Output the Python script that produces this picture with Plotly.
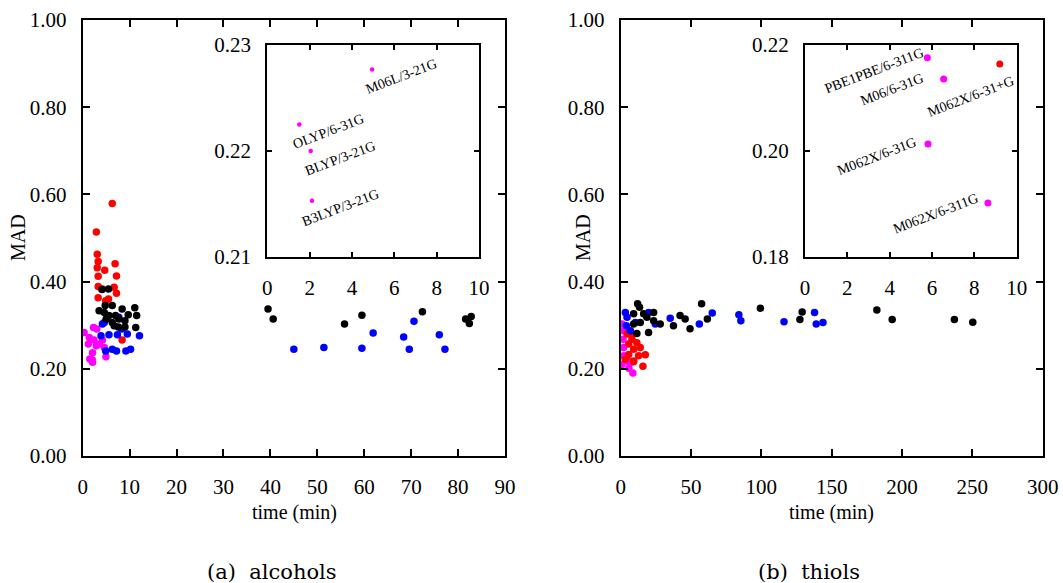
import plotly.graph_objects as go

# ---------------- data: (a) alcohols ----------------
alc_red_x = [6.3, 2.9, 3.1, 3.3, 3.1, 4.7, 6.9, 3.3, 7.2, 3.3, 6.7, 4.2, 7.2, 3.3, 4.9, 8.4, 5.5]
alc_red_y = [0.579, 0.514, 0.463, 0.446, 0.432, 0.426, 0.441, 0.412, 0.413, 0.389, 0.387, 0.383, 0.373, 0.363, 0.356, 0.266, 0.360]

alc_black_x = [4.1, 5.5, 4.8, 6.3, 8.4, 11.1, 3.5, 4.6, 5.6, 7.0, 9.7, 11.5, 5.0, 6.3, 7.7, 9.0, 6.7, 9.0, 11.3, 7.6,
               39.5, 40.6, 55.8, 59.5, 72.4, 81.6, 82.4, 82.8]
alc_black_y = [0.382, 0.383, 0.345, 0.345, 0.337, 0.340, 0.333, 0.329, 0.322, 0.322, 0.324, 0.322, 0.314, 0.306, 0.314, 0.310, 0.299, 0.296, 0.295, 0.296,
               0.337, 0.314, 0.303, 0.323, 0.331, 0.314, 0.304, 0.320]

alc_blue_x = [4.6, 4.2, 7.7, 3.9, 5.6, 7.4, 9.5, 12.1, 4.9, 6.3, 7.2, 9.2, 10.2, 8.3,
              45.0, 51.4, 59.5, 61.9, 68.4, 69.6, 70.6, 76.0, 77.2]
alc_blue_y = [0.306, 0.303, 0.318, 0.276, 0.278, 0.278, 0.280, 0.276, 0.241, 0.245, 0.241, 0.241, 0.245, 0.291,
              0.245, 0.249, 0.247, 0.282, 0.273, 0.245, 0.309, 0.278, 0.245]

alc_mag_x = [0.3, 2.3, 3.0, 1.4, 2.4, 4.2, 1.2, 2.9, 2.1, 3.5, 4.6, 4.95, 1.51, 2.05, 2.11]
alc_mag_y = [0.283, 0.295, 0.291, 0.272, 0.266, 0.266, 0.257, 0.253, 0.237, 0.257, 0.249, 0.2277, 0.2225, 0.2200, 0.2153]

# inset (a)
alc_ins_labels = ["M06L/3-21G", "OLYP/6-31G", "BLYP/3-21G", "B3LYP/3-21G"]
alc_ins_x = [4.95, 1.51, 2.05, 2.11]
alc_ins_y = [0.2277, 0.2225, 0.2200, 0.2153]

# ---------------- data: (b) thiols ----------------
thi_red_x = [4.5, 8.0, 5.7, 11.5, 13.9, 9.2, 17.5, 5.7, 9.2, 15.8, 3.3, 12.7, 8.0, 9.2]
thi_red_y = [0.280, 0.268, 0.257, 0.260, 0.249, 0.245, 0.232, 0.233, 0.218, 0.206, 0.222, 0.230, 0.280, 0.2164]

thi_mag_x = [0.9, 2.1, 1.6, 2.1, 2.1, 4.0, 0.9, 5.78, 6.55, 5.81, 8.64]
thi_mag_y = [0.303, 0.287, 0.268, 0.249, 0.230, 0.218, 0.210, 0.2176, 0.2136, 0.2013, 0.1902]

thi_blue_x = [3.3, 4.5, 4.0, 6.9, 19.8, 24.6, 35.2, 55.9, 65.1, 10.4, 84.0, 85.4, 116.1, 137.8, 139.0, 143.8]
thi_blue_y = [0.329, 0.318, 0.299, 0.287, 0.329, 0.303, 0.316, 0.303, 0.328, 0.306, 0.324, 0.310, 0.308, 0.329, 0.303, 0.306]

thi_black_x = [12.0, 13.4, 9.2, 16.3, 23.4, 18.6, 28.1, 9.2, 11.5, 19.8, 23.4, 37.5, 42.2, 45.8, 49.3, 57.5, 61.6, 13.9,
               99.3, 129.0, 127.4, 182.1, 193.0, 237.2, 250.3]
thi_black_y = [0.349, 0.341, 0.326, 0.326, 0.329, 0.318, 0.303, 0.303, 0.281, 0.283, 0.310, 0.299, 0.322, 0.314, 0.292, 0.349, 0.314, 0.306,
               0.339, 0.330, 0.313, 0.335, 0.313, 0.313, 0.307]

# inset (b)
thi_ins_labels = ["PBE1PBE/6-311G", "M06/6-31G", "M062X/6-31+G", "M062X/6-31G", "M062X/6-311G"]
thi_ins_x = [5.78, 6.55, 9.2, 5.81, 8.64]
thi_ins_y = [0.2176, 0.2136, 0.2164, 0.2013, 0.1902]
thi_ins_colors = ["#ff00ff", "#ff00ff", "#ff0000", "#ff00ff", "#ff00ff"]

# ---------------- styling ----------------
FONT = "Liberation Serif"
W, H = 1063, 583
RED, BLUE, BLACK, MAG = "#ff0000", "#0000ff", "#000000", "#ff00ff"
MS = 7.5

fig = go.Figure()

def add_pts(x, y, color, xa, ya, size=MS):
    fig.add_trace(go.Scatter(x=x, y=y, mode="markers", xaxis=xa, yaxis=ya,
                             marker=dict(color=color, size=size, line=dict(width=0)),
                             showlegend=False, hoverinfo="x+y"))

# main (a)
add_pts(alc_mag_x, alc_mag_y, MAG, "x", "y")
add_pts(alc_red_x, alc_red_y, RED, "x", "y")
add_pts(alc_blue_x, alc_blue_y, BLUE, "x", "y")
add_pts(alc_black_x, alc_black_y, BLACK, "x", "y")
# main (b)
add_pts(thi_mag_x, thi_mag_y, MAG, "x2", "y2")
add_pts(thi_red_x, thi_red_y, RED, "x2", "y2")
add_pts(thi_blue_x, thi_blue_y, BLUE, "x2", "y2")
add_pts(thi_black_x, thi_black_y, BLACK, "x2", "y2")
# insets
add_pts(alc_ins_x, alc_ins_y, MAG, "x3", "y3", size=4.5)
fig.add_trace(go.Scatter(x=thi_ins_x, y=thi_ins_y, mode="markers", xaxis="x4", yaxis="y4",
                         marker=dict(color=thi_ins_colors, size=7, line=dict(width=0)),
                         showlegend=False))

def px(v):  # pixel -> paper x
    return v / W

def py(v):  # pixel (from top) -> paper y
    return 1 - v / H

tickfont = dict(family=FONT, size=21, color="black")
common = dict(showline=True, linecolor="black", linewidth=2, mirror="ticks",
              ticks="inside", ticklen=7, tickwidth=1.5, tickcolor="black",
              showgrid=False, zeroline=False, tickfont=tickfont, automargin=False)
inset_common = dict(common, ticklen=5)

fig.update_layout(
    width=W, height=H, margin=dict(l=0, r=0, t=0, b=0, autoexpand=False),
    paper_bgcolor="white", plot_bgcolor="white",
    font=dict(family=FONT, color="black"),
    xaxis=dict(common, domain=[px(82.7), px(505)], range=[0, 90], dtick=10,
               anchor="y", ticklabelstandoff=11),
    yaxis=dict(common, domain=[py(456), py(20)], range=[0, 1], dtick=0.2,
               tickformat=".2f", anchor="x", ticklabelstandoff=10),
    xaxis2=dict(common, domain=[px(620.7), px(1042.7)], range=[0, 300], dtick=50,
                anchor="y2", ticklabelstandoff=11),
    yaxis2=dict(common, domain=[py(456), py(20)], range=[0, 1], dtick=0.2,
                tickformat=".2f", anchor="x2", ticklabelstandoff=10),
    xaxis3=dict(inset_common, domain=[px(267.3), px(479)], range=[0, 10], dtick=2,
                anchor="y3", ticklabelstandoff=11),
    yaxis3=dict(inset_common, domain=[py(257), py(45)], range=[0.21, 0.23], dtick=0.01,
                tickformat=".2f", anchor="x3", ticklabelstandoff=10),
    xaxis4=dict(inset_common, domain=[px(805), px(1016.7)], range=[0, 10], dtick=2,
                anchor="y4", ticklabelstandoff=11),
    yaxis4=dict(inset_common, domain=[py(257), py(45)], range=[0.18, 0.22], dtick=0.02,
                tickformat=".2f", anchor="x4", ticklabelstandoff=10),
)

annots = []
lblfont = dict(family=FONT, size=14, color="black")
# inset (a) labels: offset right/below of point
for lab, x, y in zip(alc_ins_labels, alc_ins_x, alc_ins_y):
    annots.append(dict(text=lab, x=x, y=y, xref="x3", yref="y3", showarrow=False,
                       xanchor="center", yanchor="middle", textangle=-21,
                       xshift=29, yshift=-7, font=lblfont))
# inset (b) labels: offsets in px
thi_shifts = [(-53, -13), (-52, -11), (-29, -32), (-52, -12), (-52, -11)]
for lab, x, y, (dx, dy) in zip(thi_ins_labels, thi_ins_x, thi_ins_y, thi_shifts):
    annots.append(dict(text=lab, x=x, y=y, xref="x4", yref="y4", showarrow=False,
                       xanchor="center", yanchor="middle", textangle=-21,
                       xshift=dx, yshift=dy, font=lblfont))

titlefont = dict(family=FONT, size=20, color="black")
capfont = dict(family="DejaVu Serif", size=21, color="black")
annots += [
    dict(text="MAD", x=px(18), y=py(238), xref="paper", yref="paper", showarrow=False,
         textangle=-90, font=titlefont, xanchor="center", yanchor="middle"),
    dict(text="MAD", x=px(583), y=py(238), xref="paper", yref="paper", showarrow=False,
         textangle=-90, font=titlefont, xanchor="center", yanchor="middle"),
    dict(text="time (min)", x=px(294), y=py(512), xref="paper", yref="paper", showarrow=False,
         font=titlefont, xanchor="center", yanchor="middle"),
    dict(text="time (min)", x=px(831), y=py(512), xref="paper", yref="paper", showarrow=False,
         font=titlefont, xanchor="center", yanchor="middle"),
    dict(text="(a)  alcohols", x=px(272), y=py(572), xref="paper", yref="paper", showarrow=False,
         font=capfont, xanchor="center", yanchor="middle"),
    dict(text="(b)  thiols", x=px(809), y=py(572), xref="paper", yref="paper", showarrow=False,
         font=capfont, xanchor="center", yanchor="middle"),
]
fig.update_layout(annotations=annots)

fig.write_html("out.html", config={"displayModeBar": False},
               post_script="document.body.style.margin='0px';document.body.style.padding='0px';document.body.style.overflow='hidden';")
